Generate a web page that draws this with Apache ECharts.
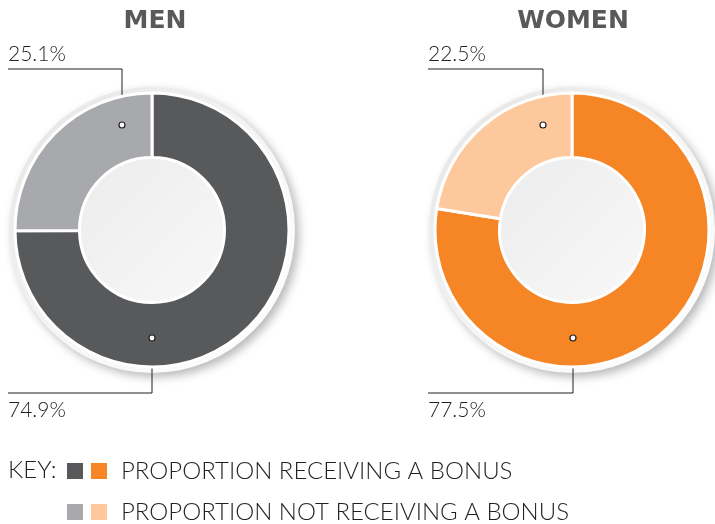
<!DOCTYPE html>
<html>
<head>
<meta charset="utf-8">
<script src="https://cdn.jsdelivr.net/npm/echarts@6/dist/echarts.min.js"></script>
<style>
html, body { margin: 0; padding: 0; background: #fff; }
#chart { width: 715px; height: 524px; }
</style>
</head>
<body>
<div id="chart"></div>
<script>
// data
const groups = ['MEN', 'WOMEN'];
const categories = ['PROPORTION RECEIVING A BONUS', 'PROPORTION NOT RECEIVING A BONUS'];
const menValues = [74.9, 25.1];
const womenValues = [77.5, 22.5];

const menColors = ['#58595b', '#a7a9ac'];
const womenColors = ['#f58525', '#fdc89b'];

const centers = [[152, 230], [572, 230]];
const lightFont = 'Lato';
const textColor = '#231f20';

const chart = echarts.init(document.getElementById('chart'));

// where the pointer dot sits for each slice, relative to the donut centre
const dotOffsets = [[-30, -105], [0, 108]];

function labelPos(ci, di) {
  const [cx, cy] = centers[ci];
  const dot = [cx + dotOffsets[1 - di][0] + (ci ? 1 : 0), cy + dotOffsets[1 - di][1]];
  const left = cx - 144;
  if (di === 1) {
    // small slice: label above
    const ly = cy - 161;
    return { x: left, y: ly - 15, line: [[left, ly], [dot[0], ly], dot], dot };
  }
  const ly = cy + 163;
  return { x: left, y: ly + 17, line: [[left, ly], [dot[0], ly], dot], dot };
}

function donut(ci, values, colors) {
  const center = centers[ci];
  return [
    {
      type: 'pie', z: 1, silent: true, center, radius: [0, 143],
      label: { show: false }, labelLine: { show: false },
      data: [{ value: 1, itemStyle: {
        color: new echarts.graphic.LinearGradient(0, 0, 1, 1, [
          { offset: 0, color: '#e4e4e5' }, { offset: 0.6, color: '#f7f7f7' }, { offset: 1, color: '#ffffff' }
        ]),
        shadowColor: 'rgba(0,0,0,0.28)', shadowBlur: 10, shadowOffsetX: 4, shadowOffsetY: 4
      } }]
    },
    {
      type: 'pie', z: 2, silent: true, center, radius: [0, 74],
      label: { show: false }, labelLine: { show: false },
      data: [{ value: 1, itemStyle: {
        color: new echarts.graphic.LinearGradient(0, 0, 1, 1, [
          { offset: 0, color: '#ececed' }, { offset: 1, color: '#f8f8f8' }
        ])
      } }]
    },
    {
      type: 'pie', z: 3, silent: true, center, radius: [72.5, 137], startAngle: 90,
      avoidLabelOverlap: false,
      itemStyle: { borderColor: '#fff', borderWidth: 3 },
      label: {
        show: true, position: 'outside', formatter: '{c}%', overflow: 'none',
        fontFamily: lightFont, fontWeight: 300, fontSize: 21, color: textColor
      },
      labelLine: { show: true, smooth: false, lineStyle: { color: textColor, width: 1 } },
      labelLayout: (p) => {
        const lp = labelPos(ci, p.dataIndex);
        return { x: lp.x, y: lp.y, align: 'left', verticalAlign: 'middle', labelLinePoints: lp.line };
      },
      data: values.map((v, i) => ({ name: categories[i], value: v, itemStyle: { color: colors[i] } }))
    }
  ];
}

const dots = [];
[0, 1].forEach((ci) => {
  [0, 1].forEach((di) => {
    const d = labelPos(ci, di).dot;
    dots.push({
      type: 'circle', z: 100, shape: { cx: d[0], cy: d[1], r: 3 },
      style: { fill: '#fff', stroke: textColor, lineWidth: 1.2 }
    });
  });
});

const legendText = { fontFamily: lightFont, fontWeight: 300, fontSize: 24, lineHeight: 20, color: textColor, padding: [0, 0, 0, 8] };

chart.setOption({
  animation: false,
  legend: [
    {
      left: 65, top: 459, width: 40, height: 80, padding: 0, orient: 'vertical', icon: 'rect',
      itemWidth: 18, itemHeight: 18, itemGap: 17,
      selectedMode: false, formatter: () => ' ', textStyle: legendText,
      data: categories.map((n, i) => ({ name: n, itemStyle: { color: menColors[i] } }))
    },
    {
      left: 89, top: 459, width: 600, height: 80, padding: 0, orient: 'vertical', icon: 'rect',
      itemWidth: 18, itemHeight: 18, itemGap: 17,
      selectedMode: false, textStyle: legendText,
      data: categories.map((n, i) => ({ name: n, itemStyle: { color: womenColors[i] } }))
    }
  ],
  graphic: [
    {
      type: 'text', x: centers[0][0] + 3, y: 21,
      style: { text: groups[0], fill: '#58595b', font: 'bold 25px "DejaVu Sans"', textAlign: 'center', textVerticalAlign: 'middle' }
    },
    {
      type: 'text', x: centers[1][0] + 1, y: 21,
      style: { text: groups[1], fill: '#58595b', font: 'bold 25px "DejaVu Sans"', textAlign: 'center', textVerticalAlign: 'middle' }
    },
    {
      type: 'text', x: 8, y: 470,
      style: { text: 'KEY:', fill: textColor, font: '300 24px Lato', textAlign: 'left', textVerticalAlign: 'middle' }
    }
  ].concat(dots),
  series: [].concat(donut(0, menValues, menColors), donut(1, womenValues, womenColors))
});
</script>
</body>
</html>
